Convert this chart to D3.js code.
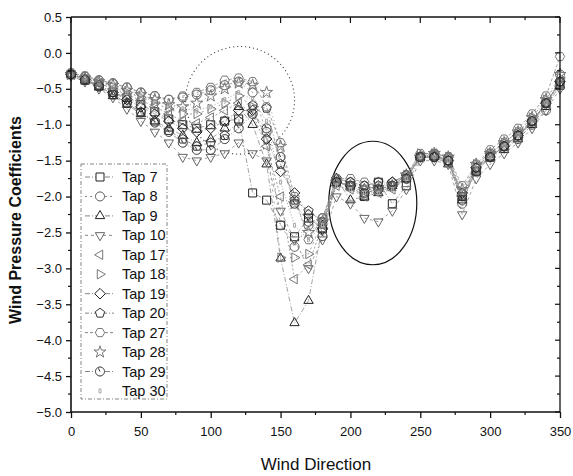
<!DOCTYPE html>
<html>
<head>
<meta charset="utf-8">
<script src="https://cdn.jsdelivr.net/npm/d3@7"></script>
<style>
  body { margin: 0; background: #fff; }
  text { font-family: "Liberation Sans", Arial, sans-serif; fill: #111; }
</style>
</head>
<body>
<svg width="573" height="476"></svg>
<script>
const directions = [0, 10, 20, 30, 40, 50, 60, 70, 80, 90, 100, 110, 120, 130, 140, 150, 160, 170,
  180, 190, 200, 210, 220, 230, 240, 250, 260, 270, 280, 290, 300, 310, 320, 330, 340, 350];

const tapNames = ["Tap 7", "Tap 8", "Tap 9", "Tap 10", "Tap 17", "Tap 18", "Tap 19", "Tap 20", "Tap 27", "Tap 28", "Tap 29", "Tap 30"];

const tap7 = [-0.30,-0.38,-0.45,-0.55,-0.62,-0.72,-0.82,-0.92,-1.00,-1.05,-1.00,-0.95,-0.92,-1.95,-2.05,-2.40,-2.56,-2.30,-2.45,-1.80,-1.85,-2.00,-1.80,-2.10,-1.85,-1.45,-1.42,-1.50,-2.00,-1.65,-1.45,-1.30,-1.15,-0.98,-0.70,-0.45];
const tap8 = [-0.28,-0.33,-0.38,-0.42,-0.48,-0.55,-0.60,-0.65,-0.62,-0.58,-0.52,-0.45,-0.40,-0.55,-1.10,-2.40,-2.70,-2.40,-2.30,-1.75,-1.80,-1.85,-1.90,-1.85,-1.75,-1.45,-1.45,-1.45,-2.10,-1.60,-1.40,-1.30,-1.20,-1.00,-0.80,-0.30];
const tap9 = [-0.30,-0.38,-0.48,-0.60,-0.72,-0.85,-0.95,-1.05,-1.15,-1.25,-1.20,-1.05,-0.75,-1.00,-1.55,-2.86,-3.76,-3.45,-2.40,-1.75,-2.05,-2.00,-1.95,-1.85,-1.75,-1.45,-1.45,-1.55,-2.05,-1.65,-1.45,-1.35,-1.20,-1.00,-0.75,-0.45];
const tap10 = [-0.32,-0.40,-0.50,-0.62,-0.78,-0.95,-1.10,-1.25,-1.45,-1.50,-1.45,-1.40,-1.25,-1.40,-1.50,-2.20,-2.60,-3.00,-2.60,-2.00,-2.10,-2.30,-2.35,-2.20,-1.90,-1.50,-1.50,-1.55,-2.25,-1.75,-1.55,-1.40,-1.25,-1.05,-0.80,-0.50];
const tap17 = [-0.30,-0.36,-0.42,-0.50,-0.58,-0.66,-0.75,-0.85,-0.95,-0.98,-0.90,-0.80,-0.70,-0.85,-1.30,-2.00,-3.15,-2.95,-2.40,-1.85,-1.90,-2.00,-1.95,-1.90,-1.75,-1.45,-1.40,-1.45,-2.00,-1.60,-1.40,-1.25,-1.10,-0.95,-0.70,-0.40];
const tap18 = [-0.30,-0.35,-0.40,-0.47,-0.55,-0.62,-0.70,-0.78,-0.85,-0.85,-0.78,-0.70,-0.60,-0.75,-1.20,-2.85,-2.85,-2.80,-2.35,-1.80,-1.85,-1.95,-1.90,-1.85,-1.70,-1.40,-1.40,-1.45,-1.95,-1.55,-1.40,-1.25,-1.10,-0.90,-0.65,-0.35];
const tap19 = [-0.30,-0.37,-0.45,-0.55,-0.65,-0.75,-0.85,-0.95,-1.05,-1.10,-1.05,-0.95,-0.80,-0.80,-1.20,-1.65,-1.95,-2.25,-2.45,-1.80,-1.85,-1.90,-1.85,-1.80,-1.70,-1.45,-1.45,-1.50,-1.95,-1.60,-1.45,-1.30,-1.15,-0.95,-0.70,-0.40];
const tap20 = [-0.30,-0.37,-0.46,-0.58,-0.70,-0.82,-0.95,-1.08,-1.20,-1.30,-1.25,-1.15,-0.95,-0.73,-0.77,-1.55,-2.05,-2.20,-2.35,-1.75,-1.80,-1.85,-1.80,-1.80,-1.70,-1.45,-1.45,-1.50,-2.00,-1.60,-1.45,-1.30,-1.15,-0.95,-0.70,-0.40];
const tap27 = [-0.28,-0.32,-0.38,-0.43,-0.48,-0.55,-0.60,-0.65,-0.60,-0.55,-0.48,-0.38,-0.35,-0.40,-0.75,-1.25,-2.00,-2.60,-2.30,-1.75,-1.75,-1.80,-1.85,-1.85,-1.70,-1.40,-1.40,-1.45,-1.85,-1.55,-1.35,-1.20,-1.05,-0.85,-0.60,-0.05];
const tap28 = [-0.30,-0.35,-0.40,-0.45,-0.52,-0.58,-0.65,-0.72,-0.75,-0.70,-0.60,-0.50,-0.42,-0.45,-0.55,-1.30,-2.10,-2.50,-2.35,-1.80,-1.85,-1.90,-1.90,-1.85,-1.70,-1.45,-1.40,-1.45,-1.90,-1.55,-1.40,-1.25,-1.10,-0.90,-0.65,-0.30];
const tap29 = [-0.30,-0.38,-0.47,-0.58,-0.70,-0.83,-0.97,-1.10,-1.25,-1.35,-1.35,-1.20,-1.05,-0.85,-1.05,-1.45,-2.10,-2.35,-2.55,-1.80,-1.85,-1.95,-1.90,-1.85,-1.75,-1.45,-1.45,-1.50,-2.05,-1.65,-1.45,-1.30,-1.15,-0.95,-0.70,-0.40];
const tap30 = [-0.30,-0.35,-0.42,-0.48,-0.55,-0.60,-0.68,-0.72,-0.78,-0.80,-0.75,-0.65,-0.55,-0.65,-0.95,-1.80,-2.40,-2.60,-2.40,-1.85,-1.90,-1.95,-1.95,-1.90,-1.75,-1.45,-1.45,-1.50,-2.10,-1.60,-1.45,-1.30,-1.15,-0.95,-0.70,-0.40];

const xTicks = [0, 50, 100, 150, 200, 250, 300, 350];
const yTicks = [0.5, 0.0, -0.5, -1.0, -1.5, -2.0, -2.5, -3.0, -3.5, -4.0, -4.5, -5.0];

const seriesValues = [tap7, tap8, tap9, tap10, tap17, tap18, tap19, tap20, tap27, tap28, tap29, tap30];

// marker shape + line dash per tap
const markerKind = ["square", "circle", "triUp", "triDown", "triLeft", "triRight", "diamond", "pentagon", "hexagon", "star", "circleTick", "dot"];
const dashes = ["5,2,1,2", "2,3", "5,2,1,2", "3,3", "2,2", "2,4", "5,2,1,2", "4,2,1,2", "3,2", "1,3", "5,2,1,2", "1,2"];
const legendLine = [true, true, true, true, false, false, true, true, true, false, true, false];
const markerStroke = ["#222", "#555", "#222", "#666", "#777", "#777", "#222", "#333", "#777", "#777", "#333", "#aaa"];

const svg = d3.select("svg");
const x = d3.scaleLinear().domain([0, 350]).range([71, 560]);
const y = d3.scaleLinear().domain([-5, 0.5]).range([412, 17]);

function poly(n, r, rot) {
  const pts = d3.range(n).map(function (i) {
    const a = rot + i * 2 * Math.PI / n;
    return [r * Math.cos(a), r * Math.sin(a)];
  });
  return "M" + pts.map(function (p) { return p[0].toFixed(2) + "," + p[1].toFixed(2); }).join("L") + "Z";
}

function markerPath(kind) {
  switch (kind) {
    case "square": return "M-4,-4H4V4H-4Z";
    case "circle": return poly(24, 4.5, 0);
    case "triUp": return poly(3, 5.4, -Math.PI / 2);
    case "triDown": return poly(3, 5.4, Math.PI / 2);
    case "triLeft": return poly(3, 5.4, Math.PI);
    case "triRight": return poly(3, 5.4, 0);
    case "diamond": return poly(4, 5.3, -Math.PI / 2);
    case "pentagon": return poly(5, 4.9, -Math.PI / 2);
    case "hexagon": return poly(6, 4.7, 0);
    case "star": return d3.symbol(d3.symbolStar, 45)();
    case "circleTick": return poly(24, 4.5, 0) + "M0,0L-1.5,-3.2";
    case "dot": return "M-1,-2H1V2H-1Z";
  }
}

const g = svg.append("g");

// annotation circles
g.append("ellipse")
  .attr("cx", x(121)).attr("cy", y(-0.66))
  .attr("rx", x(39) - x(0)).attr("ry", y(-0.75) - y(0))
  .attr("fill", "none").attr("stroke", "#333").attr("stroke-width", 1.1)
  .attr("stroke-dasharray", "1,3");

g.append("ellipse")
  .attr("cx", x(216)).attr("cy", y(-2.09))
  .attr("rx", x(31.5) - x(0)).attr("ry", y(-0.86) - y(0))
  .attr("fill", "none").attr("stroke", "#111").attr("stroke-width", 1.2);

// series lines
const line = d3.line()
  .x(function (d, i) { return x(directions[i]); })
  .y(function (d) { return y(d); });

seriesValues.forEach(function (vals, s) {
  g.append("path")
    .attr("d", line(vals))
    .attr("fill", "none")
    .attr("stroke", "#8a8a8a")
    .attr("stroke-width", 0.8)
    .attr("stroke-dasharray", dashes[s]);
});

seriesValues.forEach(function (vals, s) {
  g.selectAll(null)
    .data(vals)
    .enter()
    .append("path")
    .attr("transform", function (d, i) { return "translate(" + x(directions[i]) + "," + y(d) + ")"; })
    .attr("d", markerPath(markerKind[s]))
    .attr("fill", "none")
    .attr("stroke", markerStroke[s])
    .attr("stroke-width", 1);
});

// axes
const axisColor = "#111";
const left = d3.axisLeft(y).tickValues(yTicks).tickFormat(d3.format(".1f")).tickSize(5).tickPadding(4);
const bottom = d3.axisBottom(x).tickValues(xTicks).tickFormat(d3.format("d")).tickSize(6).tickPadding(9);

const ga = svg.append("g").attr("transform", "translate(" + x(0) + ",0)").call(left);
const gb = svg.append("g").attr("transform", "translate(0," + y(-5) + ")").call(bottom);

[ga, gb].forEach(function (a) {
  a.select(".domain").attr("stroke", axisColor).attr("stroke-width", 1.6);
  a.selectAll(".tick line").attr("stroke", axisColor).attr("stroke-width", 1.3);
  a.selectAll(".tick text").attr("font-size", 13).attr("font-family", "Liberation Sans, Arial, sans-serif").attr("fill", "#111");
});
ga.select(".domain").attr("d", "M0," + y(0.5) + "V" + y(-5));
gb.select(".domain").attr("d", "M" + x(0) + ",0H" + x(350));

// minor ticks
const yMinor = yTicks.slice(0, -1).map(function (v) { return v - 0.25; });
ga.selectAll(".minor").data(yMinor).enter().append("line")
  .attr("x1", 0).attr("x2", -3).attr("y1", function (d) { return y(d); }).attr("y2", function (d) { return y(d); })
  .attr("stroke", axisColor).attr("stroke-width", 1.2);
const xMinor = xTicks.slice(0, -1).map(function (v) { return v + 25; });
gb.selectAll(".minor").data(xMinor).enter().append("line")
  .attr("y1", 0).attr("y2", 3).attr("x1", function (d) { return x(d); }).attr("x2", function (d) { return x(d); })
  .attr("stroke", axisColor).attr("stroke-width", 1.2);

// top and right axes (inward ticks)
const topAxis = svg.append("g");
topAxis.append("line").attr("x1", x(0)).attr("x2", x(350)).attr("y1", y(0.5)).attr("y2", y(0.5))
  .attr("stroke", axisColor).attr("stroke-width", 1.3);
topAxis.selectAll(".tk").data(xTicks.concat(xMinor)).enter().append("line")
  .attr("x1", function (d) { return x(d); }).attr("x2", function (d) { return x(d); })
  .attr("y1", y(0.5)).attr("y2", function (d) { return y(0.5) + (d % 50 === 0 ? 6 : 3); })
  .attr("stroke", axisColor).attr("stroke-width", 1.2);
const rightAxis = svg.append("g");
rightAxis.append("line").attr("x1", x(350)).attr("x2", x(350)).attr("y1", y(0.5)).attr("y2", y(-5))
  .attr("stroke", axisColor).attr("stroke-width", 1.3);
rightAxis.selectAll(".tk").data(yTicks.concat(yMinor)).enter().append("line")
  .attr("y1", function (d) { return y(d); }).attr("y2", function (d) { return y(d); })
  .attr("x1", x(350)).attr("x2", function (d) { return x(350) - (Math.round(d * 4) % 2 === 0 ? 5 : 3); })
  .attr("stroke", axisColor).attr("stroke-width", 1.2);

// axis titles
svg.append("text")
  .attr("x", 316).attr("y", 470)
  .attr("text-anchor", "middle")
  .attr("font-size", 17)
  .text("Wind Direction");

svg.append("text")
  .attr("transform", "translate(21,220) rotate(-90)")
  .attr("text-anchor", "middle")
  .attr("font-size", 16)
  .attr("font-weight", "bold")
  .text("Wind Pressure Coefficients");

// legend
const legend = svg.append("g");
legend.append("rect")
  .attr("x", 81).attr("y", 164).attr("width", 86).attr("height", 235)
  .attr("fill", "#fff").attr("stroke", "#777").attr("stroke-width", 0.9)
  .attr("stroke-dasharray", "4,2,1,2");

tapNames.forEach(function (name, s) {
  const ly = 177 + s * 19.45;
  if (legendLine[s]) {
    legend.append("line")
      .attr("x1", 85).attr("x2", 114).attr("y1", ly).attr("y2", ly)
      .attr("stroke", "#777").attr("stroke-width", 0.9)
      .attr("stroke-dasharray", dashes[s]);
  }
  legend.append("path")
    .attr("transform", "translate(100," + ly + ")")
    .attr("d", markerPath(markerKind[s]))
    .attr("fill", "#fff")
    .attr("stroke", markerStroke[s])
    .attr("stroke-width", 1);
  legend.append("text")
    .attr("x", 122).attr("y", ly + 5)
    .attr("font-size", 14.5)
    .text(name);
});
</script>
</body>
</html>
